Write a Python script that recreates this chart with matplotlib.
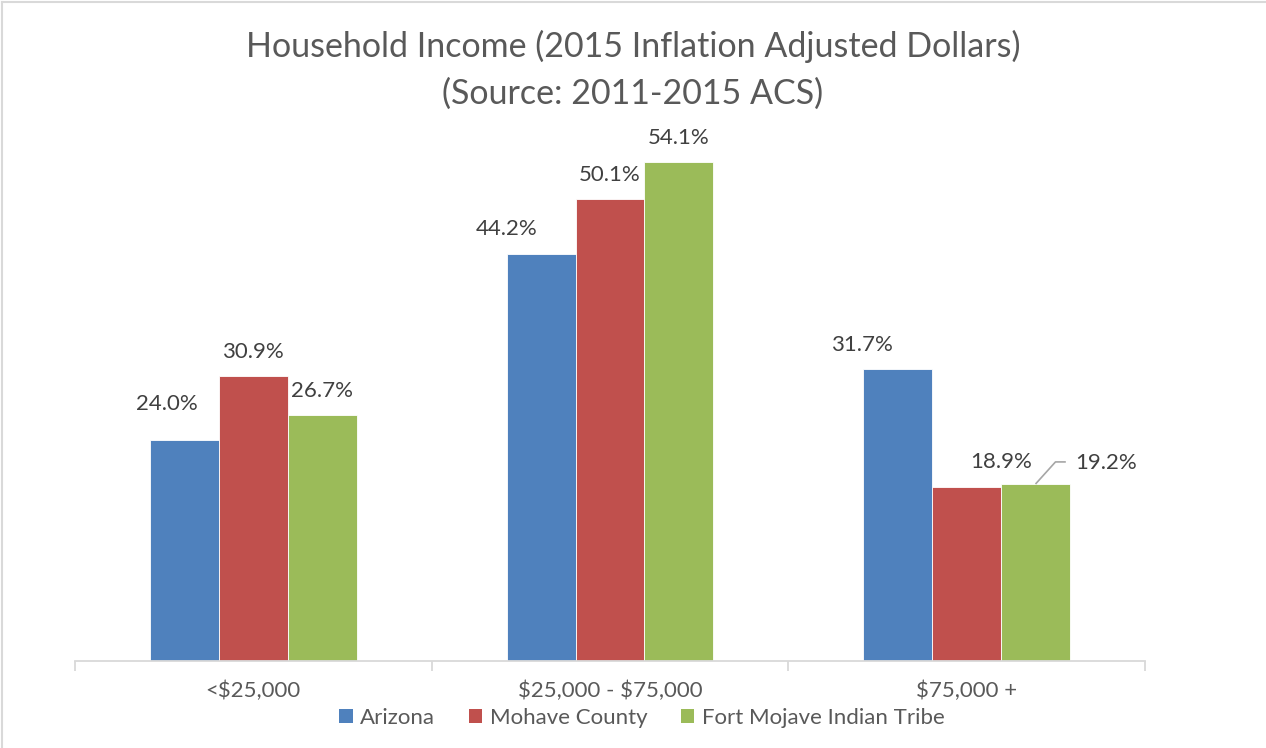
import matplotlib
matplotlib.use("Agg")
import matplotlib.pyplot as plt
import numpy as np
from matplotlib.lines import Line2D
from matplotlib.patches import Patch

categories = ["<$25,000", "$25,000 - $75,000", "$75,000 +"]
series_names = ["Arizona", "Mohave County", "Fort Mojave Indian Tribe"]
arizona = [24.0, 44.2, 31.7]
mohave = [30.9, 50.1, 18.9]
fort_mojave = [26.7, 54.1, 19.2]
colors = ["#4F81BD", "#C0504D", "#9BBB59"]

# manual data-label nudges (points) as placed in the original chart: (series, category) -> (dx, dy)
label_nudges = {(0, 0): (-13, 26), (0, 1): (-24.5, 17.5), (0, 2): (-26, 17.5), (1, 2): (24.5, 17.5)}

plt.rcParams['font.family'] = ['Lato', 'DejaVu Sans']
plt.rcParams['text.parse_math'] = False

fig = plt.figure(figsize=(12.66, 7.48), dpi=100)
ax = fig.add_axes([75/1266, 1-661/748, (1145-75)/1266, (661-108)/748])

x = np.arange(len(categories))
w = 0.193
data = [arizona, mohave, fort_mojave]
for i, (vals, c) in enumerate(zip(data, colors)):
    pos = x + (i - 1) * w
    ax.bar(pos, vals, width=w, color=c, edgecolor='white', linewidth=0.6, zorder=2)
    for j, (p, v) in enumerate(zip(pos, vals)):
        if i == 2 and j == 2:
            ax.plot([p, p + 0.056, p + 0.085], [v, v + 2.4, v + 2.4],
                    color='#A6A6A6', lw=1.2, zorder=3, solid_capstyle='butt')
            ax.text(p + 0.11, v + 2.3, f"{v:.1f}%", ha='left', va='center',
                    fontsize=16, color='#404040')
        else:
            dx, dy = label_nudges.get((i, j), (0, 17.5))
            ax.annotate(f"{v:.1f}%", xy=(p, v), xytext=(dx, dy), textcoords='offset points',
                        ha='center', va='center', fontsize=16, color='#404040')

ax.set_xlim(-0.5, 2.5)
ax.set_ylim(0, 60)
ax.set_yticks([])
for s in ['top', 'right', 'left']:
    ax.spines[s].set_visible(False)
ax.spines['bottom'].set_color('#D9D9D9')
ax.spines['bottom'].set_linewidth(1.3)
ax.set_xticks([-0.5, 0.5, 1.5, 2.5], minor=False)
ax.set_xticklabels([])
ax.tick_params(axis='x', which='major', length=7, color='#D9D9D9', width=1.3)
ax.set_xticks(x, minor=True)
ax.set_xticklabels(categories, minor=True, fontsize=16, color='#595959')
ax.tick_params(axis='x', which='minor', length=0, pad=14)

fig.text(0.5, 1-46/748, "Household Income (2015 Inflation Adjusted Dollars)",
         ha='center', va='center', fontsize=24.5, color='#595959')
fig.text(0.5, 1-94/748, "(Source: 2011-2015 ACS)",
         ha='center', va='center', fontsize=24.5, color='#595959')

handles = [Patch(facecolor=c, edgecolor='none') for c in colors]
fig.legend(handles, series_names, loc='center', bbox_to_anchor=(642/1266, 1-718/748),
           ncol=3, frameon=False, fontsize=16, handlelength=0.6, handleheight=0.6,
           handletextpad=0.35, columnspacing=1.5, labelcolor='#595959')

# chart area border (top and left visible)
fig.add_artist(Line2D([2/1266, 1], [1-1.5/748, 1-1.5/748], color='#D9D9D9', lw=1.5, transform=fig.transFigure))
fig.add_artist(Line2D([2/1266, 2/1266], [0, 1-1.5/748], color='#D9D9D9', lw=1.5, transform=fig.transFigure))

fig.savefig("out.png", dpi=100)
